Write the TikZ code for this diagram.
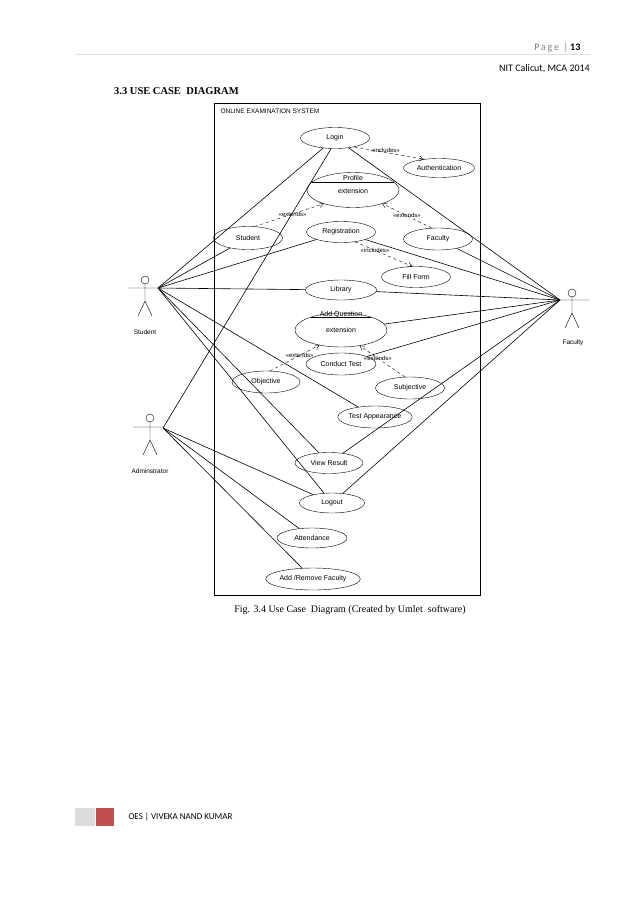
\documentclass[tikz,border=0pt]{standalone}
\usepackage{fontspec}
\setmainfont{Liberation Sans}
\newfontfamily\hdrfont{Carlito}
\newfontfamily\serifb{Liberation Serif}
\usetikzlibrary{shapes.geometric,arrows.meta}
\definecolor{footred}{RGB}{192,80,77}
\definecolor{footgray}{RGB}{220,220,220}
\begin{document}
\begin{tikzpicture}[x=1pt,y=-1pt,
  uc/.style={draw,ellipse,inner sep=0pt,font=\fontsize{7}{8}\selectfont},
  rel/.style={draw,dashed,-{Straight Barb[length=4pt,width=5pt]}},
  rlab/.style={font=\fontsize{6}{7}\selectfont,inner sep=0pt},
  lk/.style={draw,line width=0.6pt},
  aname/.style={font=\fontsize{6.5}{7}\selectfont}]
\useasboundingbox (0,0) rectangle (638,903);
% header
\node[anchor=base east,font=\hdrfont\fontsize{10}{12}\selectfont,text=gray,inner sep=0pt] (pg) at (570,50) {P\,a\,g\,e\ \ |\,};
\node[anchor=base west,font=\hdrfont\bfseries\fontsize{10}{12}\selectfont,inner sep=0pt] (pn) at (pg.base east) {13};
\draw[black!12] (75,54) -- (590,54);
\node[anchor=base east,font=\hdrfont\fontsize{10}{12}\selectfont,inner sep=0pt] (nit) at (590,71) {NIT Calicut, MCA 2014};
\node[anchor=base west,font=\serifb\bfseries\fontsize{10.5}{12}\selectfont,inner sep=0pt] (hd) at (114,94) {3.3 USE CASE\ \ DIAGRAM};
% system box
\draw[line width=0.7pt] (214,103) rectangle (480,595);
\node[anchor=west,font=\fontsize{6.5}{7}\selectfont] (sys) at (217,111) {ONLINE EXAMINATION SYSTEM};
% use cases
\node[uc,minimum width=69pt,minimum height=21pt] (login) at (335,138) {Login};
\node[uc,minimum width=71pt,minimum height=19pt] (auth) at (439,168) {Authentication};
\node[uc,minimum width=92pt,minimum height=35pt] (prof) at (353,190) {};
\draw (312.1,182) -- (393.9,182);
\node[font=\fontsize{7}{8}\selectfont,inner sep=0pt] (proft) at (353,178) {Profile};
\node[font=\fontsize{7}{8}\selectfont] (profe) at (353,191) {extension};
\node[uc,minimum width=69pt,minimum height=23pt] (stu) at (248,238) {Student};
\node[uc,minimum width=69pt,minimum height=21pt] (reg) at (341,232) {Registration};
\node[uc,minimum width=69pt,minimum height=22pt] (fac) at (438,239) {Faculty};
\node[uc,minimum width=69pt,minimum height=21pt] (fill) at (416,277) {Fill Form};
\node[uc,minimum width=71pt,minimum height=20pt] (lib) at (341,290) {Library};
\node[uc,minimum width=92pt,minimum height=34pt] (addq) at (341,330) {};
\draw (311.4,317) -- (370.6,317);
\node[font=\fontsize{7}{8}\selectfont,inner sep=0pt] (addqt) at (341,315) {Add Question};
\node[font=\fontsize{7}{8}\selectfont] (addqe) at (341,330) {extension};
\node[uc,minimum width=70pt,minimum height=22pt] (ct) at (341,364) {Conduct Test};
\node[uc,minimum width=68pt,minimum height=22pt] (obj) at (266,382) {Objective};
\node[uc,minimum width=69pt,minimum height=22pt] (subj) at (410,388) {Subjective};
\node[uc,minimum width=66pt,minimum height=22pt] (ta) at (375,417) {Test Appearance};
\node[uc,minimum width=68pt,minimum height=21pt] (vr) at (329,463) {View Result};
\node[uc,minimum width=65pt,minimum height=20pt] (lo) at (332,503) {Logout};
\node[uc,minimum width=70pt,minimum height=20pt] (att) at (312,538) {Attendance};
\node[uc,minimum width=92pt,minimum height=22pt] (arf) at (313,579) {Add /Remove Faculty};
% actors
\draw (145,280) circle (4);
\draw (145,284) -- (145,301) (128,288) -- (162,288) (145,301) -- (138,316) (145,301) -- (152,316);
\coordinate (sa) at (158,288);
\node[aname] (sal) at (145,332) {Student};
\draw (572,293) circle (4);
\draw (572,297) -- (572,313) (560,300) -- (590,300) (572,313) -- (565,328) (572,313) -- (579,328);
\coordinate (fa) at (560,300);
\node[aname] (fal) at (573,343) {Faculty};
\draw (150,418) circle (4);
\draw (150,422) -- (150,440) (133,427) -- (163,427) (150,440) -- (143,455) (150,440) -- (157,455);
\coordinate (aa) at (163,428);
\node[aname] (aal) at (150,471) {Adminstrator};
% associations
\foreach \t in {login,stu,reg,lib,ta,vr,lo} \draw[lk] (sa) -- (\t);
\draw[lk] (aa) -- (login.250);
\foreach \t in {lo,att,arf} \draw[lk] (aa) -- (\t);
\foreach \t in {login,reg,fac,lib,addq,ct,vr,lo} \draw[lk] (fa) -- (\t);
% include / extend
\draw[rel] (login.-25) -- node[rlab,above,pos=0.45] {«includes»} (auth.150);
\draw[rel] (stu.60) -- node[rlab,pos=0.55] {«extends»} (prof.205);
\draw[rel] (fac.120) -- node[rlab,pos=0.5] {«extends»} (prof.-25);
\draw[rel] (reg.-35) -- node[rlab,pos=0.35] {«includes»} (fill.110);
\draw[rel] (obj.70) -- node[rlab,pos=0.6] {«extends»} (addq.215);
\draw[rel] (subj.115) -- node[rlab,pos=0.6] {«extends»} (addq.-40);
% caption
\node[anchor=base,font=\serifb\fontsize{10}{12}\selectfont] (cap) at (350,612) {Fig. 3.4 Use Case\ \ Diagram (Created by Umlet\ \ software)};
% footer
\fill[footgray] (75,808) rectangle (95,826);
\fill[footred] (96,808) rectangle (114,826);
\node[anchor=west,font=\hdrfont\fontsize{9}{11}\selectfont] (ft) at (125,817) {OES | VIVEKA NAND KUMAR};
\end{tikzpicture}
\end{document}
